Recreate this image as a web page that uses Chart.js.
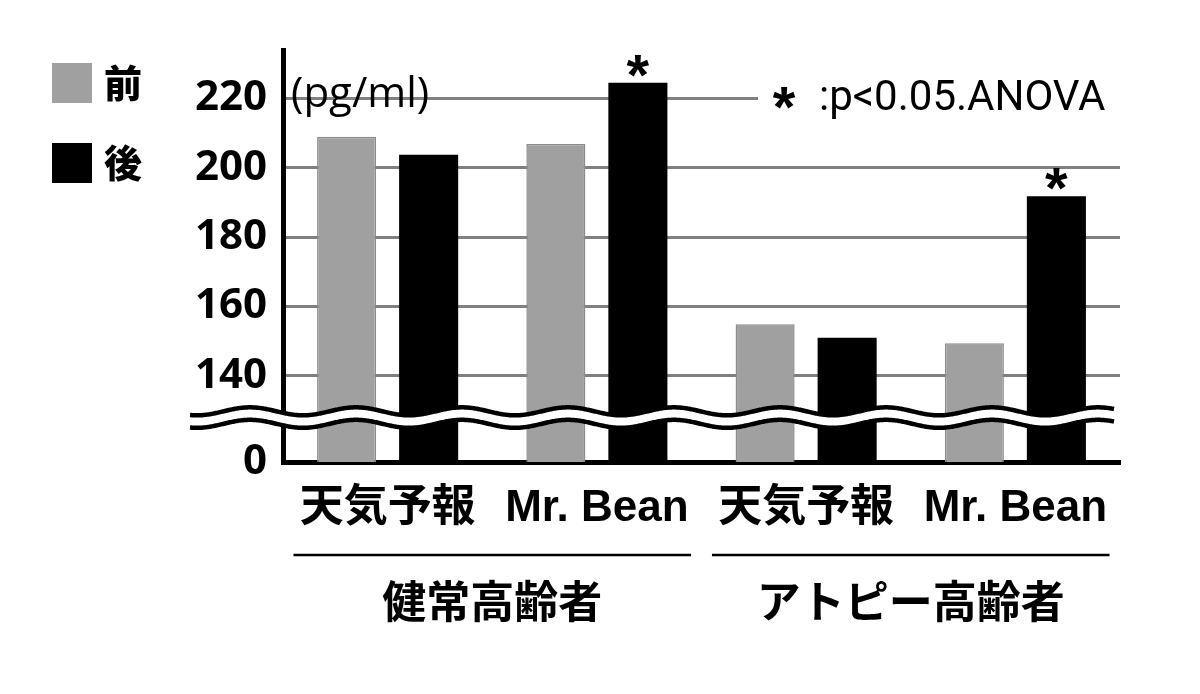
<!DOCTYPE html>
<html><head><meta charset="utf-8">
<script src="https://cdn.jsdelivr.net/npm/chart.js@4"></script>
<style>html,body{margin:0;padding:0;background:#fff}#wrap{width:1200px;height:694px;position:relative}</style>
</head><body><div id="wrap"><canvas id="c"></canvas></div>
<script>
// ---- data ----
const categories = ['天気予報', 'Mr. Bean', '天気予報', 'Mr. Bean'];
const groupLabels = ['健常高齢者', 'アトピー高齢者'];
const seriesNames = ['前', '後'];
const beforeValues = [208.9, 206.8, 154.9, 149.4];
const afterValues = [203.7, 224.5, 151.0, 191.8];
const afterSignificant = [false, true, false, true];
const yTickValues = [140, 160, 180, 200, 220];
const yBaseLabel = '0';
const unitLabel = '(pg/ml)';
const noteMark = '*';
const noteText = ':p<0.05.ANOVA';
const axisMin = 115.2, axisMax = 233.9, breakValue = 128;

const JP = '"Noto Sans CJK JP", "Noto Sans", sans-serif';
const XLAB = '"Liberation Sans", "Noto Sans CJK JP", sans-serif';
const NUM = '"Open Sans", sans-serif';
const GREY = '#a0a0a0';
const BLACK = '#000000';

function centerText(ctx, txt, x, cy, align) {
  const m = ctx.measureText(txt);
  const asc = m.actualBoundingBoxAscent, desc = m.actualBoundingBoxDescent;
  ctx.textAlign = align || 'center';
  ctx.textBaseline = 'alphabetic';
  ctx.fillText(txt, x, cy + (asc - desc) / 2);
}

const overlay = {
  id: 'overlay',
  afterDatasetsDraw(chart) {
    const ctx = chart.ctx, ys = chart.scales.y, ca = chart.chartArea;
    const y220 = ys.getPixelForValue(yTickValues[yTickValues.length - 1]);
    ctx.save();
    // white band hiding the top gridline behind the note
    ctx.fillStyle = '#fff';
    ctx.fillRect(758, y220 - 4, ca.right - 758 + 4, 8);
    // unit label
    ctx.fillStyle = '#000';
    ctx.font = '400 42px ' + NUM;
    centerText(ctx, unitLabel, 291, y220 - 2, 'left');
    // note
    ctx.font = 'bold 58px "Liberation Sans", sans-serif';
    centerText(ctx, noteMark, 784, y220, 'center');
    ctx.font = '400 42px Roboto, sans-serif';
    centerText(ctx, noteText, 819, y220 + 1, 'left');
    // significance marks
    const meta = chart.getDatasetMeta(1);
    ctx.font = 'bold 58px "Liberation Sans", sans-serif';
    meta.data.forEach((bar, i) => {
      if (afterSignificant[i]) centerText(ctx, noteMark, bar.x, bar.y - 17, 'center');
    });
    ctx.restore();
  },
  afterDraw(chart) {
    const ctx = chart.ctx, ys = chart.scales.y, xs = chart.scales.x, ca = chart.chartArea;
    ctx.save();
    // axis break wave
    const yc = ys.getPixelForValue(breakValue);
    const x0 = 190, x1 = ca.right - 6, amp = 4, period = 106, sep = 12.5;
    const f = (x, off) => yc + off - amp * Math.cos(2 * Math.PI * (x - 250) / period);
    ctx.beginPath();
    for (let x = x0; x <= x1; x++) { const y = f(x, -sep / 2); x === x0 ? ctx.moveTo(x, y) : ctx.lineTo(x, y); }
    for (let x = x1; x >= x0; x--) ctx.lineTo(x, f(x, sep / 2));
    ctx.closePath();
    ctx.fillStyle = '#fff'; ctx.fill();
    ctx.lineWidth = 4.5; ctx.strokeStyle = '#000'; ctx.lineJoin = 'round';
    [-sep / 2, sep / 2].forEach(off => {
      ctx.beginPath();
      for (let x = x0; x <= x1; x++) { const y = f(x, off); x === x0 ? ctx.moveTo(x, y) : ctx.lineTo(x, y); }
      ctx.stroke();
    });
    // group lines and labels
    const cw = xs.getPixelForValue(1) - xs.getPixelForValue(0);
    ctx.lineWidth = 2.5; ctx.strokeStyle = '#000';
    ctx.font = 'bold 44px ' + JP; ctx.fillStyle = '#000';
    groupLabels.forEach((g, gi) => {
      const a = xs.getPixelForValue(gi * 2), b = xs.getPixelForValue(gi * 2 + 1);
      const l = a - cw * 0.45, r = b + cw * 0.45;
      ctx.beginPath(); ctx.moveTo(l, 555); ctx.lineTo(r, 555); ctx.stroke();
      centerText(ctx, g, (a + b) / 2, 601, 'center');
    });
    // legend
    const colors = [GREY, BLACK];
    const ly = [83, 163];
    ctx.font = '900 38px ' + JP;
    seriesNames.forEach((n, i) => {
      ctx.fillStyle = colors[i];
      ctx.fillRect(52, ly[i] - 20, 40, 40);
      ctx.fillStyle = '#000';
      centerText(ctx, n, 104, ly[i], 'left');
    });
    ctx.restore();
  }
};

new Chart(document.getElementById('c'), {
  type: 'bar',
  data: {
    labels: categories,
    datasets: [
      { label: seriesNames[0], data: beforeValues, backgroundColor: GREY, borderColor: '#8c8c8c', borderWidth: 1.5 },
      { label: seriesNames[1], data: afterValues, backgroundColor: BLACK, borderColor: BLACK, borderWidth: 0 }
    ]
  },
  options: {
    responsive: true, maintainAspectRatio: false, animation: false,
    layout: { padding: { left: 0, right: 80, top: 50, bottom: 0 } },
    datasets: { bar: { categoryPercentage: 0.784, barPercentage: 0.72 } },
    plugins: { legend: { display: false }, tooltip: { enabled: false } },
    scales: {
      x: {
        grid: { display: false, drawTicks: false },
        border: { display: true, color: '#000', width: 5 },
        ticks: { color: '#000', font: { family: XLAB, size: 44, weight: 'bold' }, padding: 20, maxRotation: 0, autoSkip: false },
        afterFit(s) { s.height = 232; }
      },
      y: {
        min: axisMin, max: axisMax,
        afterBuildTicks(s) { s.ticks = [axisMin].concat(yTickValues).map(v => ({ value: v })); },
        grid: {
          drawTicks: false, lineWidth: 3,
          color: c => (c.tick && c.tick.value === axisMin) ? 'rgba(0,0,0,0)' : '#808080'
        },
        border: { display: true, color: '#000', width: 5 },
        ticks: {
          color: '#000', padding: 16, font: { family: NUM, size: 42, weight: '700' },
          callback: v => v === axisMin ? yBaseLabel : String(v)
        },
        afterFit(s) { s.width = 283; }
      }
    }
  },
  plugins: [overlay]
});
</script></body></html>
